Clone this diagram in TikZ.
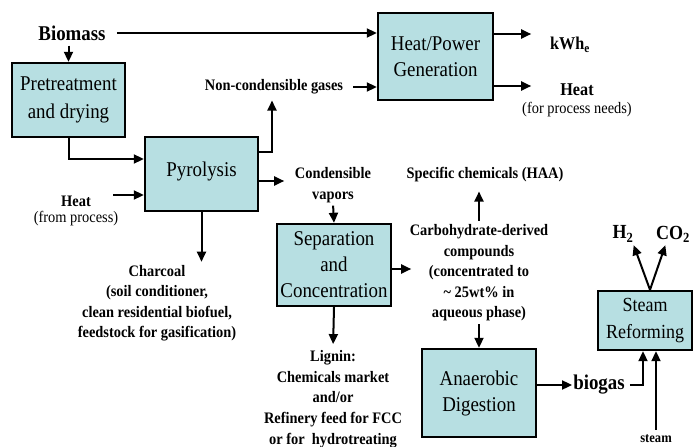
\documentclass[tikz,border=0pt]{standalone}
\usepackage{fontspec}
\setmainfont[FakeStretch=0.9]{Liberation Serif}
\usepackage{xcolor}
\usetikzlibrary{arrows.meta, positioning}
\definecolor{unitfill}{RGB}{183,223,226}

\begin{document}
\begin{tikzpicture}[
    x=1pt, y=-1pt,
    unit/.style={rectangle, draw, fill=unitfill, line width=2.4pt, inner sep=0pt, align=center, font=\fontsize{21}{26}\selectfont},
    tag/.style={align=center, inner sep=1pt, font=\bfseries\fontsize{16}{20.5}\selectfont},
    note/.style={align=center, inner sep=1pt, font=\fontsize{16}{20}\selectfont},
    flow/.style={-{Triangle[length=10pt, width=9pt]}, line width=2pt},
]
    \useasboundingbox (0,0) rectangle (694,447);

    % Process units
    \node[unit, minimum width=113pt, minimum height=74pt, font=\fontsize{21}{28}\selectfont] (pre) at (68.5,100) {Pretreatment\\and drying};
    \node[unit, minimum width=113pt, minimum height=74pt] (pyro) at (201.5,174) {\raisebox{10pt}{Pyrolysis}};
    \node[unit, minimum width=115pt, minimum height=87pt] (hp) at (435.5,56.5) {Heat/Power\\Generation};
    \node[unit, minimum width=114pt, minimum height=82pt] (sep) at (334,265) {Separation\\and\\Concentration};
    \node[unit, minimum width=114pt, minimum height=88pt] (ana) at (479,393) {Anaerobic\\Digestion};
    \node[unit, minimum width=94pt, minimum height=59pt, font=\fontsize{20}{27}\selectfont] (sr) at (645,320.5) {Steam\\Reforming};

    % Feeds and products
    \node[tag, font=\bfseries\fontsize{21}{24}\selectfont] (biomass) at (72,33) {Biomass};
    \node[tag] (ncg) at (274,87) {Non-condensible gases};
    \node[tag, font=\bfseries\fontsize{18}{20}\selectfont, anchor=west] (kwh) at (549,45) {kWh\textsubscript{e}};
    \node[tag, font=\bfseries\fontsize{18}{20}\selectfont] (heatout) at (577,90) {Heat};
    \node[note, below=4pt of heatout] (heatnote) {(for process needs)};
    \node[tag] (heatin) at (76,201) {Heat};
    \node[note, below=3pt of heatin] (heatsrc) {(from process)};
    \node[tag] (cv) at (333,185) {Condensible\\vapors};
    \node[tag] (charcoal) at (157,303) {Charcoal\\(soil conditioner,\\clean residential biofuel,\\feedstock for gasification)};
    \node[tag, font=\bfseries\fontsize{16}{20.7}\selectfont] (lignin) at (333,399) {Lignin:\\Chemicals market\\and/or\\Refinery feed for FCC\\or for~ hydrotreating};
    \node[tag] (specific) at (485,175) {Specific chemicals (HAA)};
    \node[tag] (carb) at (479,273) {Carbohydrate-derived\\compounds\\(concentrated to\\\textasciitilde{} 25wt\% in\\aqueous phase)};
    \node[tag, font=\bfseries\fontsize{21}{24}\selectfont] (biogas) at (599,385) {biogas};
    \node[tag, font=\bfseries\fontsize{20}{24}\selectfont] (h2) at (623,234) {H\textsubscript{2}};
    \node[tag, font=\bfseries\fontsize{20}{24}\selectfont] (co2) at (673,234) {CO\textsubscript{2}};
    \node[tag, font=\bfseries\fontsize{14}{16}\selectfont] (steam) at (656,439) {steam};

    % Free ends
    \coordinate (heattail) at (113,195);

    % Main line
    \draw[flow, shorten <=10pt] (biomass.east) -- (biomass.east -| hp.west);
    \draw[flow, shorten <=4pt] (biomass.south -| pre.north) -- (pre.north);
    \draw[flow] (pre.south) |- ([yshift=15pt]pyro.west);
    \draw[flow] (heattail) -- (heattail -| pyro.west);

    % Pyrolysis products
    \draw[flow, shorten >=5pt] ([yshift=22pt]pyro.east) -| ([xshift=-2pt]ncg.south);
    \draw[flow, shorten <=9pt] (ncg.east) -- (ncg.east -| hp.west);
    \draw[flow] ([yshift=-7pt]pyro.east) -- ++(25,0);
    \draw[flow, shorten >=2pt] (pyro.south) -- (pyro.south |- charcoal.north);
    \draw[flow, shorten <=2pt] (cv.south) -- (sep.north);

    % Heat/Power outputs
    \draw[flow] ([yshift=22.5pt]hp.east) -- ++(37,0);
    \draw[flow] ([yshift=-29.5pt]hp.east) -- ++(37,0);

    % Separation outputs
    \draw[flow, shorten >=5pt] (sep.south) -- (lignin.north);
    \draw[flow] ([yshift=-4pt]sep.east) -- ++(19,0);
    \draw[flow, shorten <=3pt, shorten >=8pt] (carb.north) -- (carb.north |- specific.south);
    \draw[flow, shorten <=2pt] (carb.south) -- (ana.north);

    % Biogas to steam reforming
    \draw[flow] (ana.east |- biogas) -- (biogas.west);
    \draw[flow, shorten <=4pt] (biogas.east) -| ([xshift=-2pt]sr.south);
    \draw[flow, shorten <=4pt] (steam.north) -- (steam.north |- sr.south);
    \draw[flow, shorten >=2pt] ([xshift=5pt]sr.north) -- ([xshift=10pt]h2.south);
    \draw[flow, shorten >=2pt] ([xshift=5pt]sr.north) -- ([xshift=-7pt]co2.south);
\end{tikzpicture}
\end{document}
